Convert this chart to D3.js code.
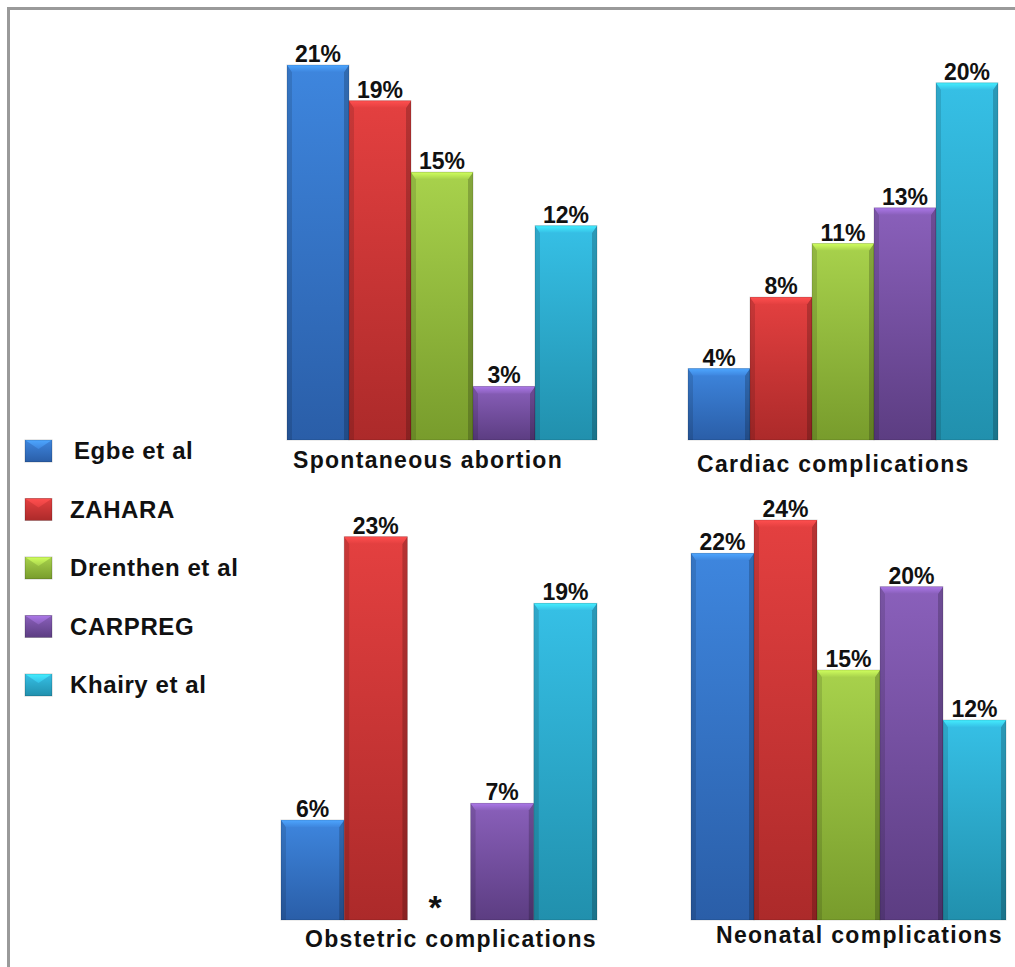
<!DOCTYPE html>
<html lang="en">
<head>
    <meta charset="UTF-8">
    <title>Pregnancy outcomes by study</title>
    <script src="https://d3js.org/d3.v7.min.js"></script>
    <style>
        body { margin: 0; background: #fff; }
        text { font-family: "Liberation Sans", Arial, sans-serif; font-weight: bold; fill: #111; }
        .value { font-size: 23px; }
        .title { font-size: 23px; letter-spacing: 1.3px; }
        .legend { font-size: 24px; letter-spacing: 0.6px; }
    </style>
</head>
<body>
<div id="chart"></div>

<script>
    // Studies (series) and outcomes (panels)
    const studies = ["Egbe et al", "ZAHARA", "Drenthen et al", "CARPREG", "Khairy et al"];
    const outcomes = ["Spontaneous abortion", "Cardiac complications", "Obstetric complications", "Neonatal complications"];

    // Percentages per outcome, in study order (null = not reported, drawn as *)
    const spontaneousAbortion = [21, 19, 15, 3, 12];
    const cardiacComplications = [4, 8, 11, 13, 20];
    const obstetricComplications = [6, 23, null, 7, 19];
    const neonatalComplications = [22, 24, 15, 20, 12];

    const values = [spontaneousAbortion, cardiacComplications, obstetricComplications, neonatalComplications];

    // colours: [light top, dark bottom]
    const colors = [
        ["#3e86de", "#2a5ea8"],
        ["#e44040", "#ac2a2a"],
        ["#a8d24c", "#789c2c"],
        ["#8a60bb", "#5c3d82"],
        ["#36c0e6", "#2190ad"]
    ];

    const width = 1015, height = 967;

    // panel placement
    const panels = [
        { x0: 287, x1: 597, base: 440, top: 40, max: 22.4, tx: 293, ty: 468 },
        { x0: 688, x1: 998, base: 440, top: 40, max: 22.4, tx: 697, ty: 472 },
        { x0: 281, x1: 597, base: 920, top: 520, max: 24, tx: 305, ty: 947 },
        { x0: 691, x1: 1006, base: 920, top: 520, max: 24, tx: 716, ty: 943 }
    ];

    const svg = d3.select("#chart").append("svg")
        .attr("width", width)
        .attr("height", height);

    const defs = svg.append("defs");
    colors.forEach((c, i) => {
        const g = defs.append("linearGradient")
            .attr("id", "grad" + i)
            .attr("x1", 0).attr("y1", 0).attr("x2", 0).attr("y2", 1);
        g.append("stop").attr("offset", "0%").attr("stop-color", c[0]);
        g.append("stop").attr("offset", "100%").attr("stop-color", c[1]);

        const t = defs.append("linearGradient")
            .attr("id", "top" + i)
            .attr("x1", 0).attr("y1", 0).attr("x2", 0).attr("y2", 1);
        t.append("stop").attr("offset", "0%").attr("stop-color", d3.color(c[0]).brighter(0.6));
        t.append("stop").attr("offset", "100%").attr("stop-color", c[0]);
    });

    // frame (top and left only, as in the cropped source)
    svg.append("path")
        .attr("d", `M8.5,${height} V8.5 H${width}`)
        .attr("fill", "none")
        .attr("stroke", "#9a9a9a")
        .attr("stroke-width", 3);

    // draw a bevelled bar
    function bevelBar(g, x, y, w, h, i) {
        const b = Math.min(7, h / 2), s = 5;
        g.append("rect")
            .attr("x", x).attr("y", y).attr("width", w).attr("height", h)
            .attr("fill", `url(#grad${i})`);
        // side shading
        g.append("path")
            .attr("d", `M${x},${y} L${x + s},${y + b} V${y + h} H${x} Z`)
            .attr("fill", "#000").attr("fill-opacity", 0.12);
        g.append("path")
            .attr("d", `M${x + w},${y} L${x + w - s},${y + b} V${y + h} H${x + w} Z`)
            .attr("fill", "#000").attr("fill-opacity", 0.2);
        // top highlight
        g.append("path")
            .attr("d", `M${x},${y} H${x + w} L${x + w - s},${y + b} H${x + s} Z`)
            .attr("fill", `url(#top${i})`);
        g.append("rect")
            .attr("x", x).attr("y", y).attr("width", w).attr("height", h)
            .attr("fill", "none").attr("stroke", "#000").attr("stroke-opacity", 0.15);
    }

    panels.forEach((p, k) => {
        const x = d3.scaleBand().domain(studies).range([p.x0, p.x1]).padding(0);
        const y = d3.scaleLinear().domain([0, p.max]).range([p.base, p.top]);
        const g = svg.append("g");

        values[k].forEach((v, i) => {
            const bx = x(studies[i]), bw = x.bandwidth();
            if (v === null) {
                g.append("text")
                    .attr("x", bx + bw / 2 - 4)
                    .attr("y", p.base - 1)
                    .attr("text-anchor", "middle")
                    .style("font-size", "34px")
                    .text("*");
                return;
            }
            bevelBar(g, bx, y(v), bw, p.base - y(v), i);
            g.append("text")
                .attr("class", "value")
                .attr("x", bx + bw / 2)
                .attr("y", y(v) - 3)
                .attr("text-anchor", "middle")
                .text(v + "%");
        });

        g.append("text")
            .attr("class", "title")
            .attr("x", p.tx)
            .attr("y", p.ty)
            .text(outcomes[k]);
    });

    // legend
    const legend = svg.append("g");
    studies.forEach((s, i) => {
        const cy = 451 + i * 58.5;
        bevelBarSmall(cy, i);
        legend.append("text")
            .attr("class", "legend")
            .attr("x", i === 0 ? 74 : 70)
            .attr("y", cy + 8)
            .text(s);
    });

    function bevelBarSmall(cy, i) {
        const x = 25, y = cy - 11, w = 27, h = 22;
        legend.append("rect")
            .attr("x", x).attr("y", y).attr("width", w).attr("height", h)
            .attr("fill", `url(#grad${i})`);
        legend.append("path")
            .attr("d", `M${x},${y} H${x + w} L${x + w / 2},${y + 9} Z`)
            .attr("fill", `url(#top${i})`);
        legend.append("rect")
            .attr("x", x).attr("y", y).attr("width", w).attr("height", h)
            .attr("fill", "none").attr("stroke", "#000").attr("stroke-opacity", 0.2);
    }
</script>
</body>
</html>
